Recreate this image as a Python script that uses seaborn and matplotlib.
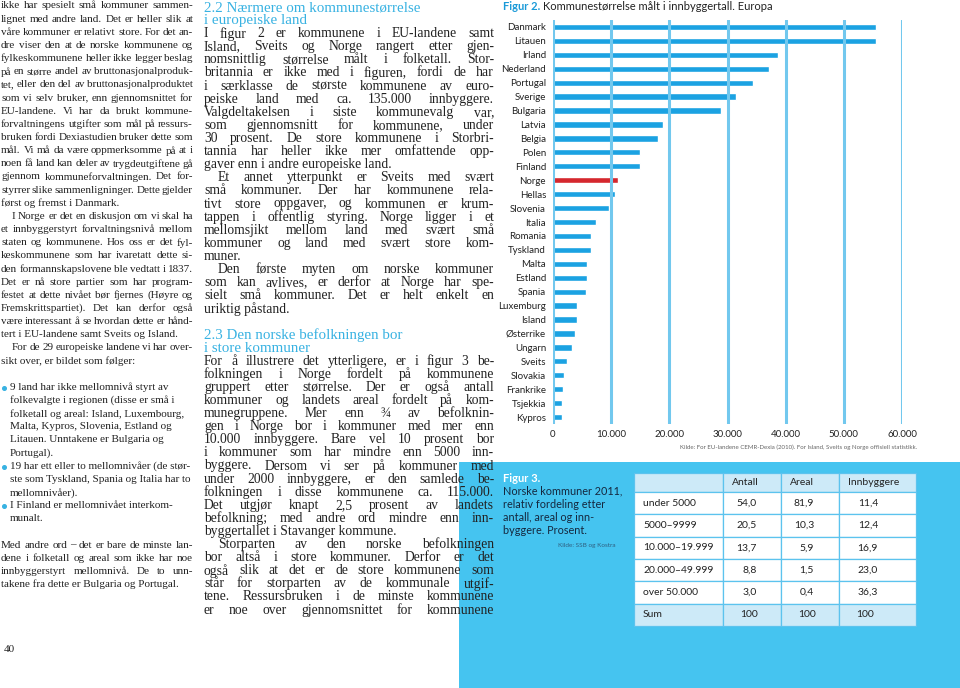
import numpy as np
import pandas as pd
import seaborn as sns
import matplotlib.pyplot as plt
from matplotlib.patches import Rectangle

# Figur 2: gjennomsnittlig kommunestørrelse (innbyggere)
countries = ['Danmark', 'Litauen', 'Irland', 'Nederland', 'Portugal', 'Sverige',
             'Bulgaria', 'Latvia', 'Belgia', 'Polen', 'Finland', 'Norge', 'Hellas',
             'Slovenia', 'Italia', 'Romania', 'Tyskland', 'Malta', 'Estland', 'Spania',
             'Luxemburg', 'Island', 'Østerrike', 'Ungarn', 'Sveits', 'Slovakia',
             'Frankrike', 'Tsjekkia', 'Kypros']
inhabitants = [55500, 55500, 38700, 37100, 34400, 31500, 28800, 18900, 18000, 15000,
               15000, 11200, 10600, 9600, 7400, 6500, 6500, 5800, 5800, 5600,
               4100, 4100, 3700, 3300, 2400, 1900, 1700, 1550, 1500]
x_ticks = [0, 10000, 20000, 30000, 40000, 50000, 60000]
x_ticklabels = ['0', '10.000', '20.000', '30.000', '40.000', '50.000', '60.000']

# Figur 3: tabell
size_groups = ['under 5000', '5000–9999', '10.000–19.999', '20.000–49.999', 'over 50.000', 'Sum']
table_cols = ['Antall', 'Areal', 'Innbyggere']
antall = [54.0, 20.5, 13.7, 8.8, 3.0, 100]
areal = [81.9, 10.3, 5.9, 1.5, 0.4, 100]
innbyggere = [11.4, 12.4, 16.9, 23.0, 36.3, 100]

# brødtekst: "¶" = siste linje i avsnitt, "\t" = innrykk, "• " = punkt, "#" = overskrift
left_lines = [
    "ikke har spesielt små kommuner sammen-",
    "lignet med andre land. Det er heller slik at",
    "våre kommuner er relativt store. For det an-",
    "dre viser den at de norske kommunene og",
    "fylkeskommunene heller ikke legger beslag",
    "på en større andel av bruttonasjonalproduk-",
    "tet, eller den del av bruttonasjonalproduktet",
    "som vi selv bruker, enn gjennomsnittet for",
    "EU-landene. Vi har da brukt kommune-",
    "forvaltningens utgifter som mål på ressurs-",
    "bruken fordi Dexiastudien bruker dette som",
    "mål. Vi må da være oppmerksomme på at i",
    "noen få land kan deler av trygdeutgiftene gå",
    "gjennom kommuneforvaltningen. Det for-",
    "styrrer slike sammenligninger. Dette gjelder",
    "først og fremst i Danmark.¶",
    "\tI Norge er det en diskusjon om vi skal ha",
    "et innbyggerstyrt forvaltningsnivå mellom",
    "staten og kommunene. Hos oss er det fyl-",
    "keskommunene som har ivaretatt dette si-",
    "den formannskapslovene ble vedtatt i 1837.",
    "Det er nå store partier som har program-",
    "festet at dette nivået bør fjernes (Høyre og",
    "Fremskrittspartiet). Det kan derfor også",
    "være interessant å se hvordan dette er hånd-",
    "tert i EU-landene samt Sveits og Island.¶",
    "\tFor de 29 europeiske landene vi har over-",
    "sikt over, er bildet som følger:¶",
    "",
    "• 9 land har ikke mellomnivå styrt av",
    "  folkevalgte i regionen (disse er små i",
    "  folketall og areal: Island, Luxembourg,",
    "  Malta, Kypros, Slovenia, Estland og",
    "  Litauen. Unntakene er Bulgaria og",
    "  Portugal).",
    "• 19 har ett eller to mellomnivåer (de stør-",
    "  ste som Tyskland, Spania og Italia har to",
    "  mellomnivåer).",
    "• I Finland er mellomnivået interkom-",
    "  munalt.",
    "",
    "Med andre ord – det er bare de minste lan-",
    "dene i folketall og areal som ikke har noe",
    "innbyggerstyrt mellomnivå. De to unn-",
    "takene fra dette er Bulgaria og Portugal.¶",
]
mid_lines = [
    "#2.2 Nærmere om kommunestørrelse",
    "#i europeiske land",
    "I figur 2 er kommunene i EU-landene samt",
    "Island, Sveits og Norge rangert etter gjen-",
    "nomsnittlig størrelse målt i folketall. Stor-",
    "britannia er ikke med i figuren, fordi de har",
    "i særklasse de største kommunene av euro-",
    "peiske land med ca. 135.000 innbyggere.",
    "Valgdeltakelsen i siste kommunevalg var,",
    "som gjennomsnitt for kommunene, under",
    "30 prosent. De store kommunene i Storbri-",
    "tannia har heller ikke mer omfattende opp-",
    "gaver enn i andre europeiske land.¶",
    "\tEt annet ytterpunkt er Sveits med svært",
    "små kommuner. Der har kommunene rela-",
    "tivt store oppgaver, og kommunen er krum-",
    "tappen i offentlig styring. Norge ligger i et",
    "mellomsjikt mellom land med svært små",
    "kommuner og land med svært store kom-",
    "muner.¶",
    "\tDen første myten om norske kommuner",
    "som kan avlives, er derfor at Norge har spe-",
    "sielt små kommuner. Det er helt enkelt en",
    "uriktig påstand.¶",
    "",
    "#2.3 Den norske befolkningen bor",
    "#i store kommuner",
    "For å illustrere det ytterligere, er i figur 3 be-",
    "folkningen i Norge fordelt på kommunene",
    "gruppert etter størrelse. Der er også antall",
    "kommuner og landets areal fordelt på kom-",
    "munegruppene. Mer enn ¾ av befolknin-",
    "gen i Norge bor i kommuner med mer enn",
    "10.000 innbyggere. Bare vel 10 prosent bor",
    "i kommuner som har mindre enn 5000 inn-",
    "byggere. Dersom vi ser på kommuner med",
    "under 2000 innbyggere, er den samlede be-",
    "folkningen i disse kommunene ca. 115.000.",
    "Det utgjør knapt 2,5 prosent av landets",
    "befolkning; med andre ord mindre enn inn-",
    "byggertallet i Stavanger kommune.¶",
    "\tStorparten av den norske befolkningen",
    "bor altså i store kommuner. Derfor er det",
    "også slik at det er de store kommunene som",
    "står for storparten av de kommunale utgif-",
    "tene. Ressursbruken i de minste kommunene",
    "er noe over gjennomsnittet for kommunene",
]

sns.set_style('white')
plt.rcParams['font.family'] = ['Lato', 'DejaVu Sans']

BLUE = '#1ba2e2'
RED = '#d5272e'
GRID = '#72c8ee'
PANEL = '#45c4f0'
HEAD = '#38b2e2'
INK = '#222222'
SERIF = ['Liberation Serif', 'DejaVu Serif']

fig = plt.figure(figsize=(9.6, 6.88), dpi=100)

# bakgrunnsakse i piksler for tekst, panel og tabell
page = fig.add_axes([0, 0, 1, 1], zorder=0)
page.set_xlim(0, 960)
page.set_ylim(688, 0)
page.axis('off')
renderer = fig.canvas.get_renderer()


def put_line(x0, x1, y, text, justify, **kw):
    words = text.split()
    if not justify or len(words) < 2:
        page.text(x0, y, ' '.join(words), va='center', **kw)
        return
    arts = [page.text(x0, y, w, va='center', **kw) for w in words]
    widths = [a.get_window_extent(renderer).width for a in arts]
    gap = (x1 - x0 - sum(widths)) / (len(words) - 1)
    x = x0
    for a, w in zip(arts, widths):
        a.set_x(x)
        x += w + gap


def put_column(lines, x0, x1, y0, step, size, head_size, indent):
    for i, line in enumerate(lines):
        y = y0 + i * step
        if not line:
            continue
        if line.startswith('#'):
            page.text(x0, y, line[1:], va='center', color=HEAD, family=SERIF, fontsize=head_size)
            continue
        last = line.endswith('¶')
        line = line.rstrip('¶')
        kw = dict(family=SERIF, fontsize=size, color=INK)
        if line.startswith('• '):
            page.plot(x0 + 3, y + 0.5, 'o', ms=2.6, color=HEAD)
            put_line(x0 + 9, x1, y, line[2:], False, **kw)
        elif line.startswith('  '):
            put_line(x0 + 9, x1, y, line.strip(), False, **kw)
        elif line.startswith('\t'):
            put_line(x0 + indent, x1, y, line.strip(), not last, **kw)
        else:
            put_line(x0, x1, y, line, not last, **kw)


put_column(left_lines, 1, 193, 6, 13.15, 8, 9.6, 11)
put_column(mid_lines, 204, 494, 7.5, 13.1, 9.8, 10.8, 14)
page.text(4, 650, '40', va='center', family=SERIF, fontsize=8, color=INK)

# Figur 2
t = page.text(503, 7, 'Figur 2.', va='center', fontsize=8, fontweight='bold', color='#1a9ad8')
w = t.get_window_extent(renderer).width
page.text(503 + w + 3, 7, 'Kommunestørrelse målt i innbyggertall. Europa',
          va='center', fontsize=8, color=INK)

ax = fig.add_axes([553 / 960, 1 - 424 / 688, 349 / 960, 404 / 688], zorder=2)
ax.patch.set_alpha(0)
df = pd.DataFrame({'land': countries, 'innbyggere': inhabitants})
palette = {c: (RED if c == 'Norge' else BLUE) for c in countries}
sns.barplot(data=df, x='innbyggere', y='land', hue='land', palette=palette,
            legend=False, width=0.45, saturation=1, orient='h', ax=ax)
ax.set_xlim(0, 60000)
ax.set_xticks(x_ticks)
ax.set_xticklabels(x_ticklabels)
ax.set_axisbelow(False)
ax.xaxis.grid(True, color=GRID, lw=2.2)
ax.yaxis.grid(False)
for s in ax.spines.values():
    s.set_visible(False)
ax.tick_params(axis='both', length=0, labelsize=7, colors=INK)
ax.tick_params(axis='y', pad=5)
ax.tick_params(axis='x', pad=4)
ax.set_xlabel('')
ax.set_ylabel('')
page.text(917, 447, 'Kilde: For EU-landene CEMR-Dexia (2010). For Island, Sveits og Norge offisiell statistikk.',
          ha='right', va='center', fontsize=4.4, color='#666666')

# Figur 3 panel
page.add_patch(Rectangle((459, 462), 501, 226, color=PANEL, lw=0, zorder=0))
page.text(503, 478, 'Figur 3.', va='center', fontsize=8, fontweight='bold', color='white')
for k, line in enumerate(['Norske kommuner 2011,', 'relativ fordeling etter',
                          'antall, areal og inn-', 'byggere. Prosent.']):
    page.text(503, 491 + k * 13.2, line, va='center', fontsize=7.8, color='#15283f')
page.text(616, 546, 'Kilde: SSB og Kostra', ha='right', va='center', fontsize=4.6, color='#2f5f80')

col_x = [634, 723, 781, 839, 916]
row_top = [473, 492] + [492 + 22.3 * (k + 1) for k in range(len(size_groups))]
num_right = [757, 814, 878]
values = [antall, areal, innbyggere]
for r in range(len(size_groups) + 1):
    shade = r == 0 or r == len(size_groups)
    for c in range(4):
        page.add_patch(Rectangle((col_x[c], row_top[r]), col_x[c + 1] - col_x[c],
                                 row_top[r + 1] - row_top[r],
                                 facecolor='#cdeaf8' if shade else 'white',
                                 edgecolor='#5cc3ee', lw=0.9, zorder=1))
for c, name in enumerate(table_cols):
    page.text(col_x[c + 1] + 9, (row_top[0] + row_top[1]) / 2, name, va='center',
              fontsize=7.5, color=INK, zorder=2)
for r, grp in enumerate(size_groups):
    yc = (row_top[r + 1] + row_top[r + 2]) / 2
    page.text(col_x[0] + 9, yc, grp, va='center', fontsize=7.5, color=INK, zorder=2)
    for c in range(3):
        v = values[c][r]
        if grp == 'Sum':
            page.text(col_x[c + 1] + 17, yc, f'{v:.0f}', va='center',
                      fontsize=7.5, color=INK, zorder=2)
        else:
            page.text(num_right[c], yc, f'{v:.1f}'.replace('.', ','), ha='right',
                      va='center', fontsize=7.5, color=INK, zorder=2)

plt.savefig('out.png', dpi=100)
